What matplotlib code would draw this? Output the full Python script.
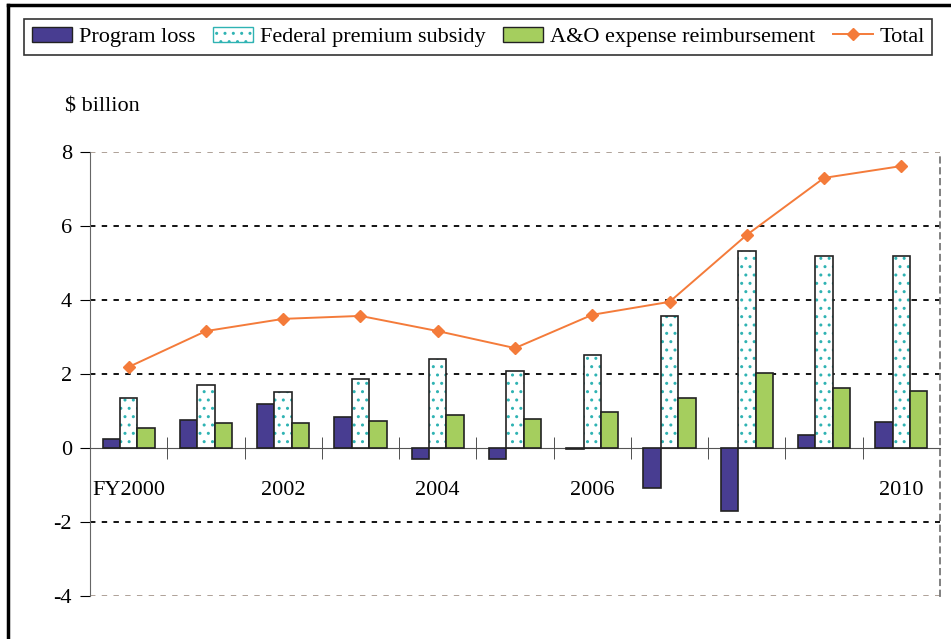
import numpy as np
import matplotlib.pyplot as plt
from matplotlib.lines import Line2D
from matplotlib.patches import Patch

plt.rcParams['font.family'] = ['Liberation Serif', 'DejaVu Serif']

years = ["FY2000", "", "2002", "", "2004", "", "2006", "", "", "", "2010"]
program_loss = [0.24, 0.76, 1.19, 0.83, -0.30, -0.30, -0.02, -1.08, -1.70, 0.35, 0.70]
premium_subsidy = [1.35, 1.71, 1.51, 1.86, 2.40, 2.08, 2.51, 3.57, 5.32, 5.19, 5.19]
ao_reimb = [0.54, 0.67, 0.67, 0.74, 0.89, 0.78, 0.97, 1.35, 2.03, 1.61, 1.55]
total = [2.19, 3.16, 3.49, 3.57, 3.16, 2.70, 3.60, 3.95, 5.76, 7.30, 7.62]

navy = "#483D91"
green = "#A5CE5E"
teal = "#2FB3B3"
orange = "#F47B3A"

fig = plt.figure(figsize=(9.51, 6.39), dpi=100)
ax = fig.add_axes([90 / 951, 1 - 596 / 639, 850 / 951, 444 / 639])

x = np.arange(len(years))
w = 0.225
ax.bar(x - w, program_loss, w, color=navy, edgecolor="#222222", lw=1.2, zorder=3)
ax.bar(x, premium_subsidy, w, color="white", edgecolor=teal, hatch="..", lw=0, zorder=3)
ax.bar(x, premium_subsidy, w, color="none", edgecolor="#222222", lw=1.2, zorder=3)
ax.bar(x + w, ao_reimb, w, color=green, edgecolor="#222222", lw=1.2, zorder=3)
ax.plot(x, total, color=orange, marker="D", ms=6, lw=1.4, zorder=4)

ax.set_xlim(-0.5, len(years) - 0.5)
ax.set_ylim(-4, 8)
ax.set_yticks([-4, -2, 0, 2, 4, 6, 8])
ax.set_yticklabels(["-4", "-2", "0", "2", "4", "6", "8"], fontsize=16)

for v in [-2, 2, 4, 6]:
    ax.axhline(v, color="black", ls=(0, (3, 3.5)), lw=1.3, zorder=1)
for v in [-4, 8]:
    ax.axhline(v, color="#A89A90", ls=(0, (3, 3.5)), lw=1.3, zorder=1)

ax.spines["top"].set_visible(False)
ax.spines["right"].set_color("#777777")
ax.spines["right"].set_linestyle((0, (3, 3)))
ax.spines["right"].set_linewidth(1.3)
ax.spines["left"].set_color("#666666")
ax.spines["bottom"].set_position(("data", 0))
ax.spines["bottom"].set_color("#555555")
ax.tick_params(axis="y", direction="out", length=7, color="black", pad=6)

ax.set_xticks(x)
ax.set_xticklabels(years, fontsize=16)
ax.set_xticks(np.arange(0.5, len(years) - 0.5, 1), minor=True)
ax.tick_params(axis="x", which="major", length=0, pad=24)
ax.tick_params(axis="x", which="minor", length=16, direction="inout", color="#333333")

fig.text(65 / 951, 1 - 107 / 639, "$ billion", fontsize=16, va="center")

handles = [
    Patch(facecolor=navy, edgecolor="#222222"),
    Patch(facecolor="white", edgecolor=teal, hatch=".."),
    Patch(facecolor=green, edgecolor="#222222"),
    Line2D([], [], color=orange, marker="D", ms=6, lw=1.4),
]
labels = ["Program loss", "Federal premium subsidy", "A&O expense reimbursement", "Total"]
leg = fig.legend(handles, labels, loc="center", bbox_to_anchor=(0.503, 1 - 37 / 639), ncol=4,
                 fontsize=16, frameon=True, fancybox=False, edgecolor="black",
                 handlelength=1.8, handletextpad=0.3, columnspacing=0.8, borderpad=0.35)
leg.get_frame().set_linewidth(1.2)

fig.add_artist(Line2D([8 / 951, 8 / 951], [0, 1 - 5 / 639], color="black", lw=2.5))
fig.add_artist(Line2D([8 / 951, 1], [1 - 5 / 639, 1 - 5 / 639], color="black", lw=2.5))

fig.savefig("out.png", dpi=100)
